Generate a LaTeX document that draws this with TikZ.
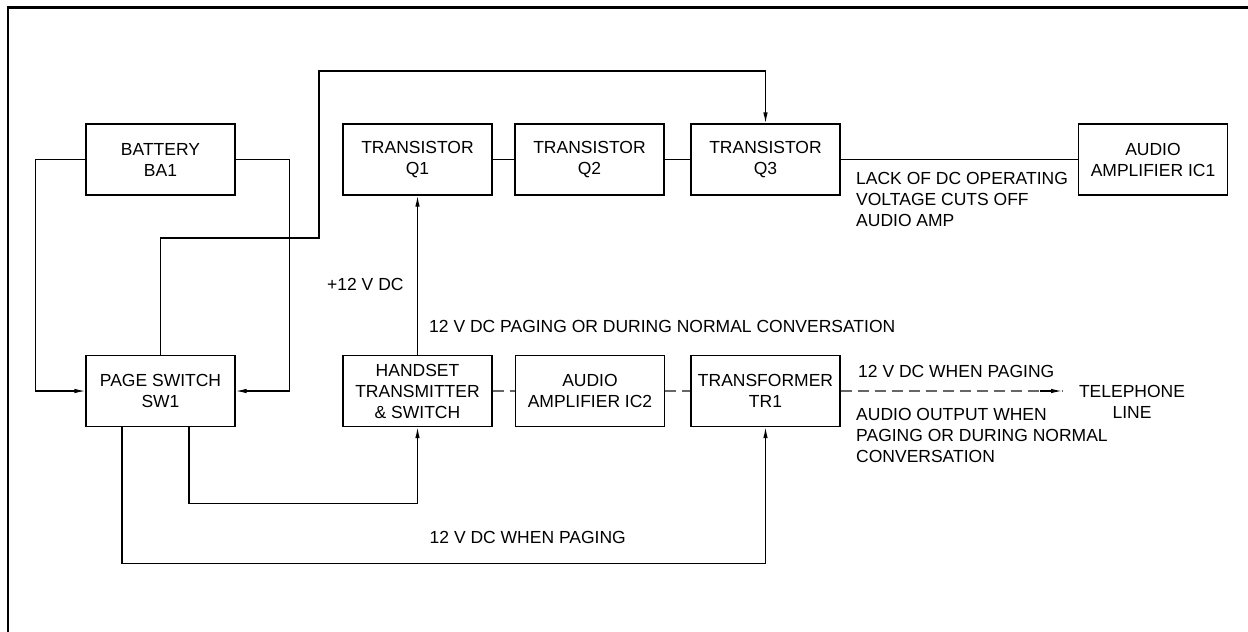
\documentclass[tikz,border=0pt]{standalone}
\usepackage{fontspec}
\setmainfont{Liberation Sans}
\usetikzlibrary{arrows.meta}
\begin{document}
\begin{tikzpicture}[x=1pt,y=-1pt,
  font=\fontsize{17.5}{21}\selectfont,
  blk/.style={draw,line width=1.2pt,minimum width=149pt,minimum height=71pt,inner sep=0pt,align=center},
  wire/.style={line width=1.2pt},
  arr/.style={wire,-{Latex[length=11pt,width=4.5pt]}},
  dsh/.style={line width=1.2pt,draw=black!60,dash pattern=on 11pt off 6pt},
  lbl/.style={inner sep=0pt,align=left}]
\useasboundingbox (0,0) rectangle (1248,632);
\draw[line width=2.5pt] (8,632) -- (8,7.5) -- (1248,7.5);

\node[blk] (bat) at (160.5,159.5) {BATTERY\\BA1};
\node[blk] (psw) at (160.5,391) {PAGE SWITCH\\SW1};
\node[blk] (q1) at (417.5,159.5) {TRANSISTOR\\Q1};
\node[blk] (q2) at (589.5,159.5) {TRANSISTOR\\Q2};
\node[blk] (q3) at (765.5,159.5) {TRANSISTOR\\Q3};
\node[blk] (ic1) at (1153,159.5) {AUDIO\\AMPLIFIER IC1};
\node[blk] (hs) at (417.5,391) {HANDSET\\TRANSMITTER\\\& SWITCH};
\node[blk] (ic2) at (590,391) {AUDIO\\AMPLIFIER IC2};
\node[blk] (tr1) at (765.5,391) {TRANSFORMER\\TR1};
\node[inner sep=0pt,align=center] (tel) at (1132,401.5) {TELEPHONE\\LINE};

\coordinate (c1) at (319,238);
\coordinate (c2) at (319,71);
\coordinate (telin) at (1062,391);

\draw[arr] (bat.west) -- ++(-50,0) |- (psw.west);
\draw[arr] (bat.east) -- ++(54,0) |- (psw.east);
\draw[arr] (psw.north) |- (c1) -- (c2) -| (q3.north);
\draw[arr] (hs.north) -- (q1.south);
\draw[wire] (q1) -- (q2);
\draw[wire] (q2) -- (q3);
\draw[wire] (q3) -- (ic1);
\draw[dsh] (hs) -- (ic2);
\draw[dsh] (ic2) -- (tr1);
\draw[dsh] (tr1.east) -- (telin);
\draw[wire,-{Latex[length=11pt,width=4.5pt]}] ([xshift=-22pt]telin) -- (telin);
\draw[arr] ([xshift=28.5pt]psw.south) -- ++(0,76) -| (hs.south);
\draw[arr] ([xshift=-38.5pt]psw.south) -- ++(0,136) -| (tr1.south);

\node[lbl,anchor=west] (l1) at (327,284) {+12 V DC};
\node[lbl,anchor=west] (l2) at (429,326) {12 V DC PAGING OR DURING NORMAL CONVERSATION};
\node[lbl,anchor=east] (l3) at (626,537) {12 V DC WHEN PAGING};
\node[lbl,anchor=west] (l4) at (856,199) {LACK OF DC OPERATING\\VOLTAGE CUTS OFF\\AUDIO AMP};
\node[lbl,anchor=west] (l5) at (858,371) {12 V DC WHEN PAGING};
\node[lbl,anchor=west] (l6) at (856,435.5) {AUDIO OUTPUT WHEN\\PAGING OR DURING NORMAL\\CONVERSATION};
\end{tikzpicture}
\end{document}
